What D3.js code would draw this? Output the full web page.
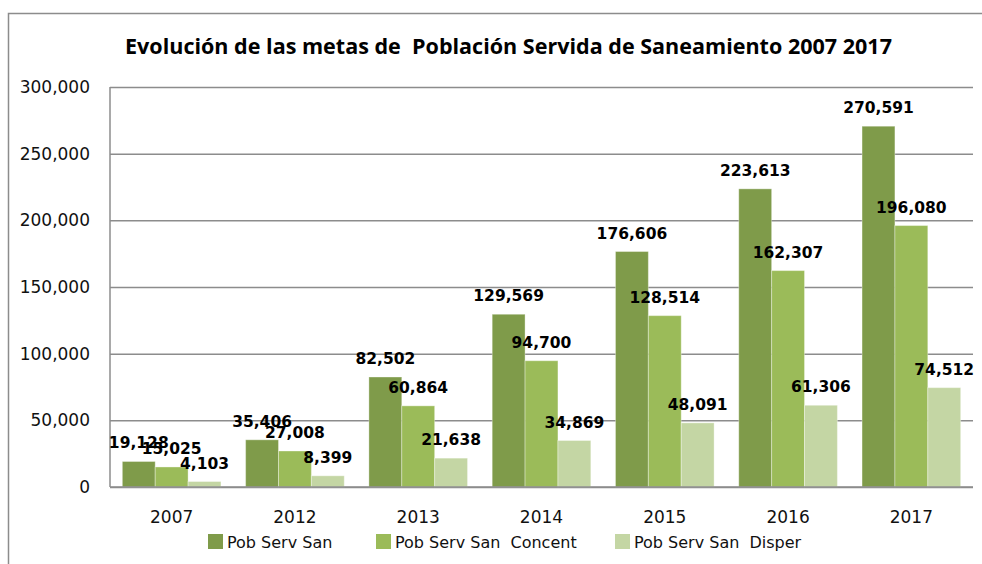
<!DOCTYPE html>
<html>
<head>
<meta charset="utf-8">
<script src="https://cdn.jsdelivr.net/npm/d3@7"></script>
<style>
  html, body { margin: 0; padding: 0; background: #fff; }
  svg { display: block; }
</style>
</head>
<body>
<div id="chart"></div>
<script>
// chart values
const years = ["2007", "2012", "2013", "2014", "2015", "2016", "2017"];
const seriesNames = ["Pob Serv San", "Pob Serv San  Concent", "Pob Serv San  Disper"];
const pobServSan = [19128, 35406, 82502, 129569, 176606, 223613, 270591];
const pobServSanConcent = [15025, 27008, 60864, 94700, 128514, 162307, 196080];
const pobServSanDisper = [4103, 8399, 21638, 34869, 48091, 61306, 74512];
const yTicks = [0, 50000, 100000, 150000, 200000, 250000, 300000];

const width = 982, height = 564;
const margin = { top: 87, right: 9, bottom: 77, left: 110 };
const colors = ["#7f9b4a", "#9bbb59", "#c4d6a4"];
const fmt = d3.format(",");

const seriesValues = [pobServSan, pobServSanConcent, pobServSanDisper];

const svg = d3.select("#chart")
    .append("svg")
    .attr("width", width)
    .attr("height", height);

// outer chart frame (cut off at right and bottom)
svg.append("path")
    .attr("d", `M8.5,${height} V13.5 H${width}`)
    .attr("fill", "none")
    .attr("stroke", "#8c8c8c")
    .attr("stroke-width", 1.5);

// title (keeps the double space of the original)
svg.append("text")
    .attr("x", 125)
    .attr("y", 54)
    .attr("textLength", 767)
    .attr("lengthAdjust", "spacingAndGlyphs")
    .style("white-space", "pre")
    .style("font-family", "'Open Sans', 'DejaVu Sans', sans-serif")
    .style("font-weight", "bold")
    .style("font-size", "21px")
    .attr("fill", "#000")
    .text("Evolución de las metas de  Población Servida de Saneamiento 2007 2017");

const x0 = d3.scaleBand()
    .domain(years)
    .range([margin.left, width - margin.right])
    .paddingInner(0.2)
    .paddingOuter(0.1);

const x1 = d3.scaleBand()
    .domain(d3.range(seriesValues.length))
    .range([0, x0.bandwidth()]);

const y = d3.scaleLinear()
    .domain([0, 300000])
    .range([height - margin.bottom, margin.top]);

// gridlines + y labels
const yAxis = d3.axisLeft(y)
    .tickValues(yTicks)
    .tickFormat(d => fmt(d))
    .tickSize(-(width - margin.left - margin.right))
    .tickPadding(20);

const gy = svg.append("g")
    .attr("transform", `translate(${margin.left},0)`)
    .call(yAxis);
gy.select(".domain").remove();
gy.selectAll(".tick line")
    .attr("stroke", "#8c8c8c")
    .attr("stroke-width", 1.5);
gy.selectAll(".tick text")
    .style("font-family", "'DejaVu Sans', sans-serif")
    .style("font-size", "17px")
    .attr("fill", "#111");

// left axis line
svg.append("line")
    .attr("x1", margin.left).attr("x2", margin.left)
    .attr("y1", y(300000)).attr("y2", y(0))
    .attr("stroke", "#8c8c8c")
    .attr("stroke-width", 1.5);

// bars
const groups = svg.append("g")
    .selectAll("g")
    .data(years)
    .join("g")
    .attr("transform", d => `translate(${x0(d)},0)`);

groups.selectAll("rect")
    .data((d, i) => seriesValues.map((s, k) => ({ k, v: s[i] })))
    .join("rect")
    .attr("x", d => x1(d.k))
    .attr("y", d => y(d.v))
    .attr("width", x1.bandwidth())
    .attr("height", d => y(0) - y(d.v))
    .attr("fill", d => colors[d.k])
    .attr("stroke", "rgba(255,255,255,0.35)")
    .attr("stroke-width", 1);

// x axis base line, drawn over bars
svg.append("line")
    .attr("x1", margin.left).attr("x2", width - margin.right)
    .attr("y1", y(0)).attr("y2", y(0))
    .attr("stroke", "#8c8c8c")
    .attr("stroke-width", 1.5);

// value labels (they overlap in the original too)
groups.selectAll("text.val")
    .data((d, i) => seriesValues.map((s, k) => ({ k, v: s[i] })))
    .join("text")
    .attr("class", "val")
    .attr("x", d => x1(d.k) + x1.bandwidth() / 2)
    .attr("y", d => y(d.v) - 13)
    .attr("text-anchor", "middle")
    .style("font-family", "'DejaVu Sans', sans-serif")
    .style("font-weight", "bold")
    .style("font-size", "15.5px")
    .attr("fill", "#000")
    .text(d => fmt(d.v));

// category labels
svg.append("g")
    .selectAll("text")
    .data(years)
    .join("text")
    .attr("x", d => x0(d) + x0.bandwidth() / 2)
    .attr("y", 523)
    .attr("text-anchor", "middle")
    .style("font-family", "'DejaVu Sans', sans-serif")
    .style("font-size", "17px")
    .attr("fill", "#111")
    .text(d => d);

// legend
const legendX = [208, 376, 615];
const legend = svg.append("g")
    .selectAll("g")
    .data(seriesNames)
    .join("g")
    .attr("transform", (d, i) => `translate(${legendX[i]},534)`);

legend.append("rect")
    .attr("width", 15)
    .attr("height", 15)
    .attr("fill", (d, i) => colors[i]);

legend.append("text")
    .attr("x", 19)
    .attr("y", 14)
    .style("font-family", "'DejaVu Sans', sans-serif")
    .style("font-size", "16px")
    .style("white-space", "pre")
    .attr("fill", "#111")
    .text(d => d);
</script>
</body>
</html>
